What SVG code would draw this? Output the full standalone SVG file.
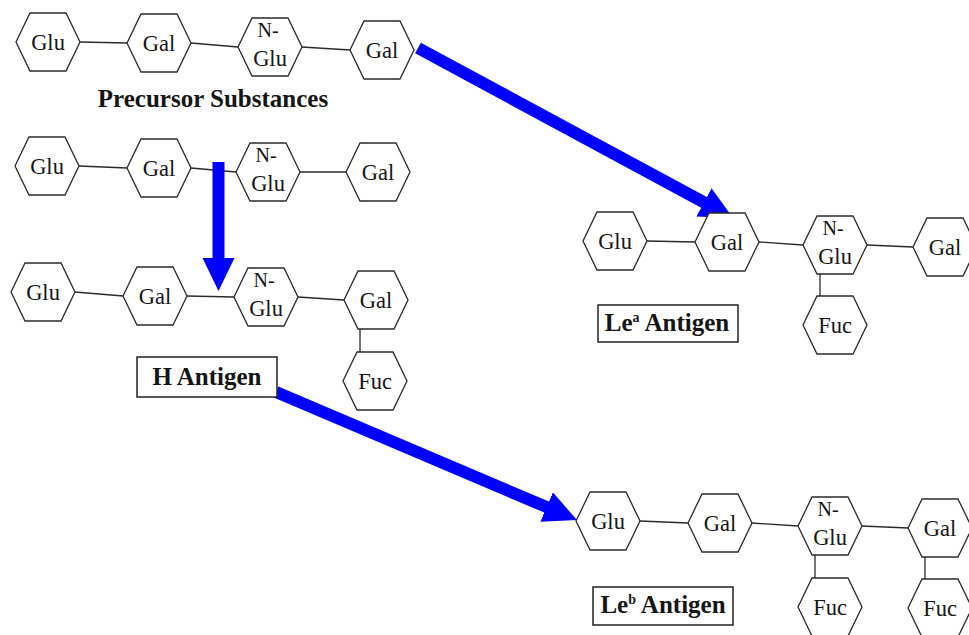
<svg xmlns="http://www.w3.org/2000/svg" xmlns:xlink="http://www.w3.org/1999/xlink" width="969" height="635" viewBox="0 0 969 635">
<style>
.hex{fill:#fff;stroke:#2a2a2a;stroke-width:1.3}
.lbl{font-family:"Liberation Serif","Times New Roman",serif;font-size:22.5px;fill:#151515;text-anchor:middle}
.n{font-size:20px}
.link{stroke:#2a2a2a;stroke-width:1.3;fill:none}
.box{fill:#fff;stroke:#222;stroke-width:1.5}
.title{font-family:"Liberation Serif","Times New Roman",serif;font-weight:bold;font-size:25px;fill:#151515;text-anchor:middle}
.arrow{stroke:#0000ff;stroke-width:12;fill:none;marker-end:url(#ah)}
</style>
<defs>
<polygon id="hx" class="hex" points="-32,0 -18,-29 18,-29 32,0 18,29 -18,29"/>
<marker id="ah" markerUnits="userSpaceOnUse" markerWidth="34" markerHeight="34" refX="9" refY="16" orient="auto">
<path d="M0,0 L33,16 L0,32 z" fill="#0000ff"/>
</marker>
</defs>
<rect width="969" height="635" fill="#fff"/>

<g id="connectors">
<line class="link" x1="80" y1="42" x2="127" y2="43"/>
<line class="link" x1="191" y1="43" x2="238" y2="47"/>
<line class="link" x1="302" y1="47" x2="350" y2="50"/>
<line class="link" x1="79" y1="166" x2="127" y2="168"/>
<line class="link" x1="191" y1="168" x2="236" y2="172"/>
<line class="link" x1="300" y1="172" x2="346" y2="172"/>
<line class="link" x1="75" y1="292" x2="123" y2="296"/>
<line class="link" x1="187" y1="296" x2="234" y2="297"/>
<line class="link" x1="298" y1="297" x2="344" y2="300"/>
<line class="link" x1="360" y1="329" x2="360" y2="352"/>
<line class="link" x1="647" y1="241" x2="695" y2="242"/>
<line class="link" x1="759" y1="242" x2="803" y2="245"/>
<line class="link" x1="867" y1="245" x2="913" y2="247"/>
<line class="link" x1="820" y1="274" x2="820" y2="296"/>
<line class="link" x1="640" y1="521" x2="688" y2="523"/>
<line class="link" x1="752" y1="523" x2="798" y2="526"/>
<line class="link" x1="862" y1="526" x2="908" y2="528"/>
<line class="link" x1="815" y1="555" x2="815" y2="578"/>
<line class="link" x1="925" y1="557" x2="925" y2="579"/>
<line class="arrow" x1="418" y1="48" x2="711.9" y2="206.6"/>
<line class="arrow" x1="218.5" y1="162" x2="218.5" y2="267"/>
<line class="arrow" x1="276" y1="392" x2="554.9" y2="510.6"/>
</g>

<g id="p1-glu"><use xlink:href="#hx" x="48" y="42"/><text class="lbl" x="48" y="50">Glu</text></g>
<g id="p1-gal1"><use xlink:href="#hx" x="159" y="43"/><text class="lbl" x="159" y="51">Gal</text></g>
<g id="p1-nglu"><use xlink:href="#hx" x="270" y="47"/><text class="lbl n" x="268" y="37">N-</text><text class="lbl" x="270" y="66">Glu</text></g>
<g id="p1-gal2"><use xlink:href="#hx" x="382" y="50"/><text class="lbl" x="382" y="58">Gal</text></g>
<g id="precursor-label"><text class="title" x="213" y="107">Precursor Substances</text></g>

<g id="p2-glu"><use xlink:href="#hx" x="47" y="166"/><text class="lbl" x="47" y="174">Glu</text></g>
<g id="p2-gal1"><use xlink:href="#hx" x="159" y="168"/><text class="lbl" x="159" y="176">Gal</text></g>
<g id="p2-nglu"><use xlink:href="#hx" x="268" y="172"/><text class="lbl n" x="266" y="162">N-</text><text class="lbl" x="268" y="191">Glu</text></g>
<g id="p2-gal2"><use xlink:href="#hx" x="378" y="172"/><text class="lbl" x="378" y="180">Gal</text></g>

<g id="h-glu"><use xlink:href="#hx" x="43" y="292"/><text class="lbl" x="43" y="300">Glu</text></g>
<g id="h-gal1"><use xlink:href="#hx" x="155" y="296"/><text class="lbl" x="155" y="304">Gal</text></g>
<g id="h-nglu"><use xlink:href="#hx" x="266" y="297"/><text class="lbl n" x="264" y="287">N-</text><text class="lbl" x="266" y="316">Glu</text></g>
<g id="h-gal2"><use xlink:href="#hx" x="376" y="300"/><text class="lbl" x="376" y="308">Gal</text></g>
<g id="h-fuc"><use xlink:href="#hx" x="375" y="381"/><text class="lbl" x="375" y="389">Fuc</text></g>
<g id="h-label"><rect class="box" x="137" y="357" width="140" height="40"/><text class="title" x="207" y="385">H Antigen</text></g>

<g id="a-glu"><use xlink:href="#hx" x="615" y="241"/><text class="lbl" x="615" y="249">Glu</text></g>
<g id="a-gal1"><use xlink:href="#hx" x="727" y="242"/><text class="lbl" x="727" y="250">Gal</text></g>
<g id="a-nglu"><use xlink:href="#hx" x="835" y="245"/><text class="lbl n" x="833" y="235">N-</text><text class="lbl" x="835" y="264">Glu</text></g>
<g id="a-gal2"><use xlink:href="#hx" x="945" y="247"/><text class="lbl" x="945" y="255">Gal</text></g>
<g id="a-fuc"><use xlink:href="#hx" x="835" y="325"/><text class="lbl" x="835" y="333">Fuc</text></g>
<g id="a-label"><rect class="box" x="598" y="305" width="140" height="37"/><text class="title" x="667" y="331">Le<tspan font-size="14" dy="-9">a</tspan><tspan dy="9"> Antigen</tspan></text></g>

<g id="b-glu"><use xlink:href="#hx" x="608" y="521"/><text class="lbl" x="608" y="529">Glu</text></g>
<g id="b-gal1"><use xlink:href="#hx" x="720" y="523"/><text class="lbl" x="720" y="531">Gal</text></g>
<g id="b-nglu"><use xlink:href="#hx" x="830" y="526"/><text class="lbl n" x="828" y="516">N-</text><text class="lbl" x="830" y="545">Glu</text></g>
<g id="b-gal2"><use xlink:href="#hx" x="940" y="528"/><text class="lbl" x="940" y="536">Gal</text></g>
<g id="b-fuc1"><use xlink:href="#hx" x="830" y="607"/><text class="lbl" x="830" y="615">Fuc</text></g>
<g id="b-fuc2"><use xlink:href="#hx" x="940" y="608"/><text class="lbl" x="940" y="616">Fuc</text></g>
<g id="b-label"><rect class="box" x="593" y="587" width="140" height="38"/><text class="title" x="663" y="613">Le<tspan font-size="14" dy="-9">b</tspan><tspan dy="9"> Antigen</tspan></text></g>
</svg>
